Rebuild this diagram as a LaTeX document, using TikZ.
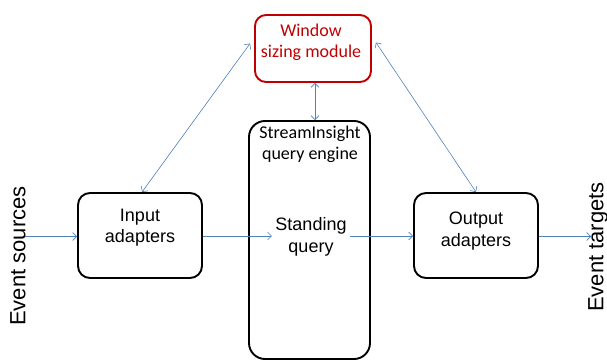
\documentclass[tikz,border=0pt]{standalone}
\usepackage{fontspec}
\setmainfont{Liberation Sans}
\newfontfamily\calibri{Carlito}
\usepackage{tikz}
\usetikzlibrary{arrows.meta,positioning,calc}

\definecolor{modred}{RGB}{192,0,0}
\definecolor{flowblue}{RGB}{79,129,189}

\begin{document}
\begin{tikzpicture}[
  x=1pt, y=-1pt,
  box/.style={rectangle, draw, line width=1.9pt, rounded corners=12pt,
    minimum width=124pt, minimum height=85pt},
  modbox/.style={rectangle, draw=modred, line width=1.9pt, rounded corners=11pt,
    minimum width=116pt, minimum height=67pt},
  engbox/.style={rectangle, draw, line width=1.9pt, rounded corners=16pt,
    minimum width=121pt, minimum height=238pt},
  txt/.style={align=center, font=\fontsize{18}{21.5}\selectfont},
  ctxt/.style={align=center, font=\calibri\fontsize{18}{21}\selectfont},
  side/.style={rotate=90, font=\fontsize{22}{26}\selectfont},
  flow/.style={draw=flowblue, line width=0.6pt, -{Straight Barb[length=4pt,width=8pt]}},
  both/.style={draw=flowblue, line width=0.6pt,
    {Straight Barb[length=4pt,width=8pt]}-{Straight Barb[length=4pt,width=8pt]}}
]
\useasboundingbox (0,0) rectangle (607,361);

% Boxes
\node[modbox] (wsm) at (313,48.5) {};
\node[engbox] (eng) at (309.5,240) {};
\node[box] (inp) at (140,235.5) {};
\node[box] (outp) at (476,235.5) {};

% Box texts
\node[ctxt, text=modred] (wsmtxt) at (311,42.5) {Window\\sizing module};
\node[ctxt] (engtxt) at (310,144) {StreamInsight\\query engine};
\node[txt] (sq) at (311,237) {Standing\\query};
\node[txt] (inptxt) at (140,227.5) {Input\\adapters};
\node[txt] (outtxt) at (476,231) {Output\\adapters};

% Sources and targets
\node[side] (src) at (18,256) {Event sources};
\node[side] (tgt) at (598,247) {Event targets};
\coordinate (srcend) at (25,236.5);
\coordinate (tgtend) at (591,236.5);

% Event flow
\draw[flow] (srcend) -- (srcend -| inp.west);
\draw[flow] (inp.east |- 0,236) -- (sq.west |- 0,236);
\draw[flow] (sq.east |- 0,236) -- (outp.west |- 0,236);
\draw[flow] (outp.east |- tgtend) -- (tgtend);

% Window sizing links
\draw[both] ([shift={(-4pt,5pt)}]wsm.west) -- ([xshift=2pt]inp.north);
\draw[both] ([shift={(4pt,6pt)}]wsm.east) -- (outp.north);
\draw[both] ([xshift=2pt]wsm.south) -- ([xshift=2pt]wsm.south |- eng.north);
\end{tikzpicture}
\end{document}
